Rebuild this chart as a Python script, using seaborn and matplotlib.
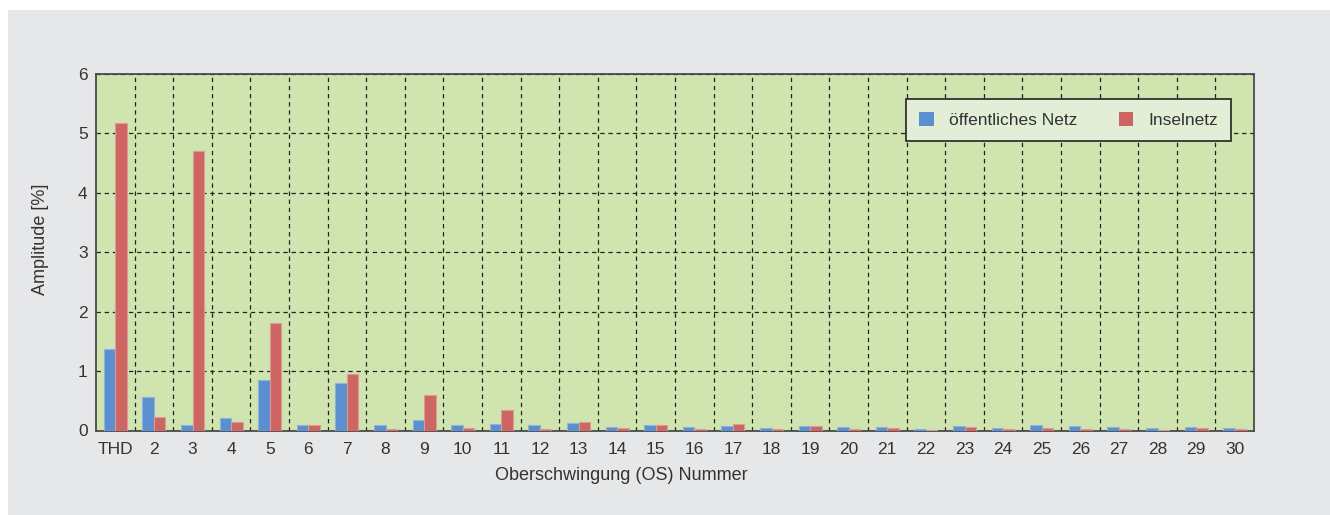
import matplotlib
matplotlib.use("Agg")
import matplotlib.pyplot as plt
import seaborn as sns
import pandas as pd
import numpy as np
from matplotlib.patches import Rectangle
from matplotlib.ticker import FixedLocator

categories = ["THD"] + [str(i) for i in range(2, 31)]
oeffentlich = [1.37, 0.57, 0.10, 0.21, 0.85, 0.10, 0.80, 0.09, 0.17, 0.09,
               0.11, 0.09, 0.13, 0.06, 0.10, 0.06, 0.08, 0.04, 0.07, 0.06,
               0.06, 0.03, 0.07, 0.04, 0.10, 0.07, 0.06, 0.04, 0.06, 0.05]
inselnetz = [5.18, 0.22, 4.70, 0.14, 1.81, 0.09, 0.95, 0.03, 0.59, 0.04,
             0.34, 0.02, 0.14, 0.04, 0.10, 0.02, 0.11, 0.02, 0.07, 0.03,
             0.04, 0.01, 0.06, 0.02, 0.04, 0.03, 0.03, 0.01, 0.04, 0.02]
series_names = ["öffentliches Netz", "Inselnetz"]
y_ticks = [0, 1, 2, 3, 4, 5, 6]

df = pd.DataFrame({
    "OS": categories * 2,
    "Amplitude": oeffentlich + inselnetz,
    "Netz": [series_names[0]] * len(categories) + [series_names[1]] * len(categories),
})

sns.set_theme(style="white")
plt.rcParams["font.family"] = ["Liberation Sans", "DejaVu Sans"]

W, H = 1330, 515
fig = plt.figure(figsize=(W / 100, H / 100), dpi=100, facecolor="white")
fig.patches.append(Rectangle((8 / W, 0), 1 - 8 / W, 1 - 10 / H, transform=fig.transFigure,
                             facecolor="#e6e7e9", edgecolor="none", zorder=-10))

ax = fig.add_axes([96 / W, (H - 430.5) / H, (1254 - 96) / W, (430.5 - 74) / H])
ax.set_facecolor("#d0e4b0")

palette = {series_names[0]: "#5b8fd0", series_names[1]: "#cd6662"}
sns.barplot(data=df, x="OS", y="Amplitude", hue="Netz", order=categories,
            hue_order=series_names, palette=palette, width=0.6, ax=ax,
            saturation=1, edgecolor="none", legend=True, zorder=3)

for cont, ec in zip(ax.containers, ["#8fb3e0", "#e09a96"]):
    for p in cont:
        p.set_edgecolor(ec)
        p.set_linewidth(0.8)

ax.set_xlim(-0.5, len(categories) - 0.5)
ax.set_ylim(0, 6)
ax.yaxis.set_major_locator(FixedLocator(y_ticks))
ax.xaxis.set_minor_locator(FixedLocator(np.arange(0.5, len(categories) - 1, 1.0)))

ax.grid(False)
ax.yaxis.grid(True, which="major", linestyle=(0, (3.5, 3)), color="#222222", linewidth=0.9, zorder=1)
ax.xaxis.grid(True, which="minor", linestyle=(0, (3.5, 3)), color="#222222", linewidth=0.9, zorder=1)
ax.set_axisbelow(True)

for s in ax.spines.values():
    s.set_color("#4a4a4a")
    s.set_linewidth(1.3)
    s.set_visible(True)

ax.tick_params(axis="both", which="both", length=0, labelsize=12.5, colors="#333333")
ax.tick_params(axis="x", pad=8)
ax.tick_params(axis="y", pad=6)
ax.set_xlabel("Oberschwingung (OS) Nummer", fontsize=13, color="#333333")
ax.set_ylabel("Amplitude [%]", fontsize=13, color="#333333")
ax.xaxis.set_label_coords(0.454, -0.102)
ax.yaxis.set_label_coords(-0.041, 0.537)

leg = ax.legend(loc="upper right", bbox_to_anchor=(0.98, 0.93), ncol=2, frameon=True,
                fancybox=False, edgecolor="#222222", facecolor="#e3eed6", framealpha=1,
                fontsize=12.5, handlelength=0.85, handleheight=0.85, columnspacing=2.4,
                handletextpad=0.85, borderpad=0.75, borderaxespad=0)
leg.get_frame().set_linewidth(1.2)
for t in leg.get_texts():
    t.set_color("#333333")
for h in leg.legend_handles:
    h.set_edgecolor("none")

fig.savefig("out.png", dpi=100, facecolor="white")
